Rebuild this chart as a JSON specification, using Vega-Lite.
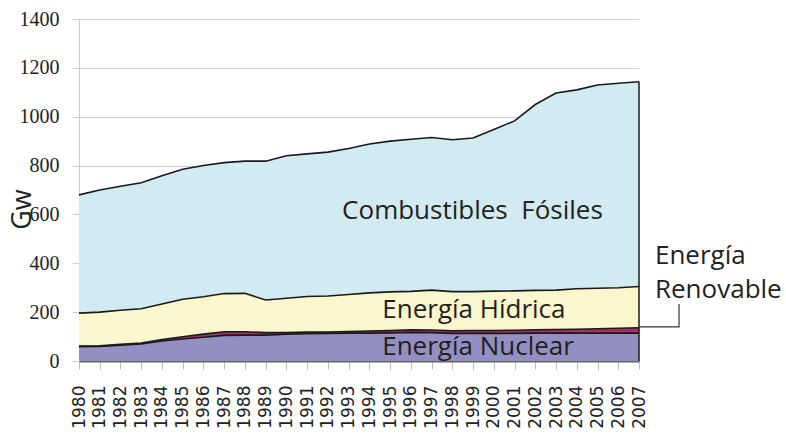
{
  "$schema": "https://vega.github.io/schema/vega-lite/v6.json",
  "autosize": "none",
  "width": 560,
  "height": 342,
  "padding": {"left": 79, "top": 19, "right": 147, "bottom": 80},
  "background": "white",
  "config": {
    "view": {"stroke": null},
    "axisY": {"labelFont": "Liberation Sans Narrow", "labelFontSize": 20, "labelPadding": 13, "labelColor": "#222"}
  },
  "datasets": {
    "series": [
      {"year":1980,"n":59,"r":2,"h":135,"f":484},
      {"year":1981,"n":60,"r":2,"h":138,"f":500},
      {"year":1982,"n":65,"r":3,"h":140,"f":507},
      {"year":1983,"n":70,"r":4,"h":140,"f":516},
      {"year":1984,"n":82,"r":6,"h":145,"f":525},
      {"year":1985,"n":90,"r":9,"h":154,"f":532},
      {"year":1986,"n":97,"r":13,"h":153,"f":537},
      {"year":1987,"n":105,"r":15,"h":156,"f":536},
      {"year":1988,"n":106,"r":14,"h":157,"f":541},
      {"year":1989,"n":106,"r":10,"h":134,"f":568},
      {"year":1990,"n":110,"r":6,"h":141,"f":583},
      {"year":1991,"n":112,"r":6,"h":146,"f":584},
      {"year":1992,"n":113,"r":6,"h":147,"f":589},
      {"year":1993,"n":114,"r":7,"h":151,"f":598},
      {"year":1994,"n":114,"r":9,"h":156,"f":609},
      {"year":1995,"n":115,"r":10,"h":158,"f":617},
      {"year":1996,"n":117,"r":11,"h":157,"f":623},
      {"year":1997,"n":116,"r":11,"h":163,"f":625},
      {"year":1998,"n":113,"r":11,"h":160,"f":622},
      {"year":1999,"n":113,"r":12,"h":159,"f":629},
      {"year":2000,"n":113,"r":12,"h":161,"f":662},
      {"year":2001,"n":113,"r":13,"h":161,"f":696},
      {"year":2002,"n":114,"r":14,"h":161,"f":761},
      {"year":2003,"n":114,"r":15,"h":161,"f":807},
      {"year":2004,"n":114,"r":16,"h":166,"f":814},
      {"year":2005,"n":114,"r":18,"h":166,"f":832},
      {"year":2006,"n":114,"r":20,"h":166,"f":837},
      {"year":2007,"n":114,"r":22,"h":169,"f":838}
    ],
    "labels": [
      {"year":1998.97,"value":581,"text":"Combustibles \u00a0Fósiles"},
      {"year":1999.04,"value":175,"text":"Energía Hídrica"},
      {"year":1999.24,"value":25,"text":"Energía Nuclear"}
    ],
    "outside": [
      {"year":2007.77,"value":396,"text":"Energía"},
      {"year":2007.77,"value":257,"text":"Renovable"}
    ],
    "leader": [
      {"year":2007,"value":140,"k":1},
      {"year":2008.93,"value":140,"k":2},
      {"year":2008.93,"value":233,"k":3}
    ],
    "edge": [
      {"year":2007,"value":0,"value2":1143}
    ]
  },
  "encoding": {
    "x": {
      "field": "year", "type": "quantitative",
      "scale": {"domain": [1980, 2007], "nice": false, "zero": false},
      "axis": {
        "values": [1980,1981,1982,1983,1984,1985,1986,1987,1988,1989,1990,1991,1992,1993,1994,1995,1996,1997,1998,1999,2000,2001,2002,2003,2004,2005,2006,2007],
        "format": "d", "title": null, "labelAngle": 270, "labelAlign": "right", "labelBaseline": "middle",
        "labelFont": "DejaVu Sans", "labelFontSize": 17, "labelColor": "#222", "labelPadding": 16,
        "tickSize": 8, "tickColor": "#bbb", "domainColor": "#666", "domainWidth": 2, "grid": false, "labelOverlap": false
      }
    },
    "y": {
      "field": "value", "type": "quantitative",
      "scale": {"domain": [0, 1400], "nice": false},
      "axis": {
        "values": [0,200,400,600,800,1000,1200,1400], "format": "d",
        "title": "Gw", "titleFont": "Open Sans", "titleFontSize": 27, "titleFontWeight": "normal", "titleColor": "#222",
        "titleX": -57, "titleY": 190, "titleAlign": "center", "titleBaseline": "middle", "titleAngle": 270,
        "labelFont": "Liberation Sans Narrow", "labelFontSize": 20, "labelColor": "#222", "labelPadding": 13,
        "tickSize": 7, "tickColor": "#ccc", "domainColor": "#ccc", "gridColor": "#ccc", "grid": true
      }
    }
  },
  "layer": [
    {
      "data": {"name": "series"},
      "transform": [
        {"fold": ["n","r","h","f"], "as": ["src","value"]},
        {"calculate": "indexof(['n','r','h','f'], datum.src)", "as": "ord"}
      ],
      "layer": [
        {
          "mark": {"type": "area", "opacity": 1},
          "encoding": {
            "y": {"field": "value", "type": "quantitative", "stack": "zero"},
            "color": {
              "field": "src", "type": "nominal", "legend": null,
              "scale": {"domain": ["n","r","h","f"], "range": ["#948fc2", "#a23068", "#faf6cd", "#d2eaf1"]}
            },
            "order": {"field": "ord", "type": "quantitative"}
          }
        },
        {
          "mark": {"type": "line", "color": "#1a1a1a", "strokeWidth": 1.6},
          "encoding": {
            "y": {"field": "value", "type": "quantitative", "stack": "zero"},
            "detail": {"field": "src", "type": "nominal"},
            "order": {"field": "ord", "type": "quantitative"}
          }
        }
      ]
    },
    {
      "data": {"name": "edge"},
      "mark": {"type": "rule", "color": "#1a1a1a", "strokeWidth": 1.5},
      "encoding": {
        "y2": {"field": "value2"}
      }
    },
    {
      "data": {"name": "leader"},
      "mark": {"type": "line", "color": "#333", "strokeWidth": 1.2, "clip": false},
      "encoding": {
        "order": {"field": "k", "type": "quantitative"}
      }
    },
    {
      "data": {"name": "labels"},
      "mark": {"type": "text", "font": "Open Sans", "fontSize": 26, "color": "#231f20", "align": "center", "baseline": "alphabetic"},
      "encoding": {
        "text": {"field": "text", "type": "nominal"}
      }
    },
    {
      "data": {"name": "outside"},
      "mark": {"type": "text", "font": "Open Sans", "fontSize": 26, "color": "#231f20", "align": "left", "baseline": "alphabetic"},
      "encoding": {
        "text": {"field": "text", "type": "nominal"}
      }
    }
  ]
}
